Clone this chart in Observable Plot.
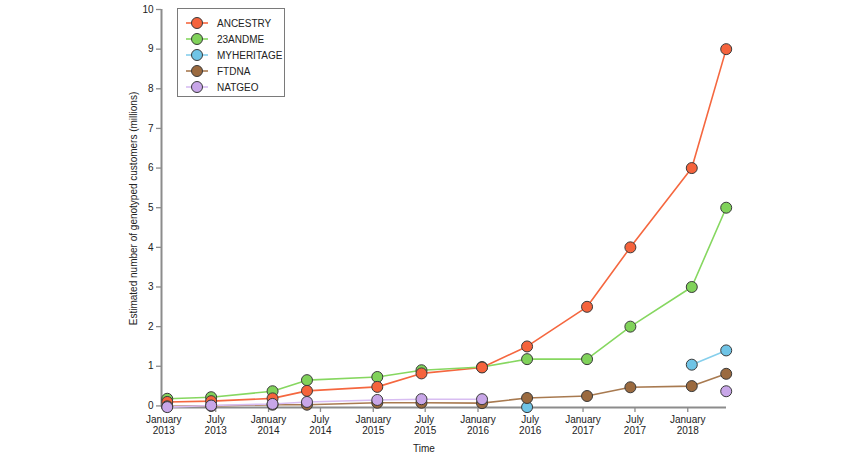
<!DOCTYPE html>
<html>
<head>
<meta charset="utf-8">
<script src="https://cdn.jsdelivr.net/npm/d3@7"></script>
<script src="https://cdn.jsdelivr.net/npm/@observablehq/plot@0.6"></script>
<style>
  html, body { margin: 0; padding: 0; background: #fff; }
  #wrap { position: relative; width: 850px; height: 457px; font-family: "Liberation Sans", Arial, sans-serif; }
  #legend { position: absolute; left: 177px; top: 8px; width: 108px; height: 89px; border: 1px solid #7a7a7a; background: #fff; box-sizing: border-box; }
  #legend .row { position: absolute; left: 0; height: 16px; display: flex; align-items: center; font-size: 10px; color: #222; }
  #legend svg { display: block; }
</style>
</head>
<body>
<div id="wrap"><div id="legend"></div></div>
<script>
// ---- data ----
const dates = ["2013-01-13","2013-06-15","2014-01-15","2014-05-15","2015-01-15","2015-06-18",
               "2016-01-15","2016-06-20","2017-01-15","2017-06-15","2018-01-15","2018-05-15"];
const seriesNames = ["ANCESTRY","23ANDME","MYHERITAGE","FTDNA","NATGEO"];
const ancestry   = [0.10, 0.12, 0.19, 0.38, 0.48, 0.82, 0.97, 1.50, 2.50, 4.00, 6.00, 9.00];
const andme      = [0.18, 0.22, 0.37, 0.65, 0.73, 0.90, 0.98, 1.18, 1.18, 2.00, 3.00, 5.00];
const myheritage = [null, null, null, null, null, null, null, -0.03, null, null, 1.04, 1.40];
const ftdna      = [-0.01, 0.00, 0.03, 0.03, 0.08, 0.08, 0.07, 0.20, 0.25, 0.47, 0.50, 0.81];
const natgeo     = [-0.03, 0.01, 0.05, 0.10, 0.15, 0.17, 0.17, null, null, null, null, 0.37];
const tickDates  = ["2013-01-01","2013-07-01","2014-01-01","2014-07-01","2015-01-01","2015-07-01",
                    "2016-01-01","2016-07-01","2017-01-01","2017-07-01","2018-01-01"];
const tickLabels = ["January\n2013","July\n2013","January\n2014","July\n2014","January\n2015","July\n2015",
                    "January\n2016","July\n2016","January\n2017","July\n2017","January\n2018"];
const yTicks = [0,1,2,3,4,5,6,7,8,9,10];

// ---- styles ----
const fillColors = {ANCESTRY:"#f5633c", "23ANDME":"#80d25a", MYHERITAGE:"#6fc4e6", FTDNA:"#9b6a3f", NATGEO:"#c8a6e8"};
const lineColors = {ANCESTRY:"#f5673f", "23ANDME":"#86d760", MYHERITAGE:"#86cfec", FTDNA:"#a87a50", NATGEO:"#d8bdf2"};
const dotOrder = ["23ANDME","ANCESTRY","MYHERITAGE","FTDNA","NATGEO"];

const valuesBy = {ANCESTRY: ancestry, "23ANDME": andme, MYHERITAGE: myheritage, FTDNA: ftdna, NATGEO: natgeo};
const parse = d3.utcParse("%Y-%m-%d");
const rows = [];
for (const s of seriesNames) {
  valuesBy[s].forEach((v, i) => rows.push({series: s, date: parse(dates[i]), value: v}));
}
const dotRows = dotOrder.flatMap(s => rows.filter(r => r.series === s && r.value != null));
const tickDateObjs = tickDates.map(parse);
const labelOf = new Map(tickDateObjs.map((d, i) => [+d, tickLabels[i]]));

const xDomain = [parse("2012-12-24"), parse("2018-05-16")];
const yDomain = [-0.04, 10];
const axisGray = "#8c8c8c";

const chart = Plot.plot({
  width: 850,
  height: 457,
  marginLeft: 161,
  marginRight: 124,
  marginTop: 9,
  marginBottom: 50,
  style: {fontFamily: "'Liberation Sans', Arial, sans-serif", fontSize: "10px", color: "#222", background: "transparent"},
  x: {type: "utc", domain: xDomain},
  y: {domain: yDomain},
  marks: [
    Plot.axisY({ticks: yTicks, tickSize: 5, tickPadding: 3, stroke: axisGray, strokeWidth: 1.3, label: null, fill: "#222"}),
    Plot.axisX({ticks: tickDateObjs, tickFormat: d => labelOf.get(+d), tickSize: 5, tickPadding: 2,
                stroke: axisGray, strokeWidth: 1.3, label: null, fill: "#222", lineHeight: 1.15}),
    Plot.ruleX([xDomain[0]], {stroke: axisGray, strokeWidth: 2}),
    Plot.ruleY([yDomain[0]], {stroke: axisGray, strokeWidth: 2}),
    Plot.text(["Estimated number of genotyped customers (millions)"], {frameAnchor: "left", textAnchor: "middle", rotate: -90, dx: -28, fontSize: 10, fill: "#222"}),
    Plot.text(["Time"], {frameAnchor: "bottom", dx: -20, dy: 44, fontSize: 10, fill: "#222"}),
    Plot.line(rows, {x: "date", y: "value", z: "series", stroke: d => lineColors[d.series], strokeWidth: 1.6}),
    Plot.dot(dotRows, {x: "date", y: "value", r: 5.5, fill: d => fillColors[d.series], stroke: "#3a3a3a", strokeWidth: 1})
  ]
});
document.getElementById("wrap").prepend(chart);

// ---- legend ----
const legend = document.getElementById("legend");
seriesNames.forEach((s, i) => {
  const row = document.createElement("div");
  row.className = "row";
  row.style.top = (6 + 16 * i) + "px";
  row.style.left = "7px";
  row.innerHTML = `<svg width="24" height="14"><line x1="1" x2="23" y1="7" y2="7" stroke="${lineColors[s]}" stroke-width="1.6"/>` +
    `<circle cx="12" cy="7" r="5.5" fill="${fillColors[s]}" stroke="#3a3a3a" stroke-width="1"/></svg>` +
    `<span style="margin-left:8px">${s}</span>`;
  legend.appendChild(row);
});
</script>
</body>
</html>
